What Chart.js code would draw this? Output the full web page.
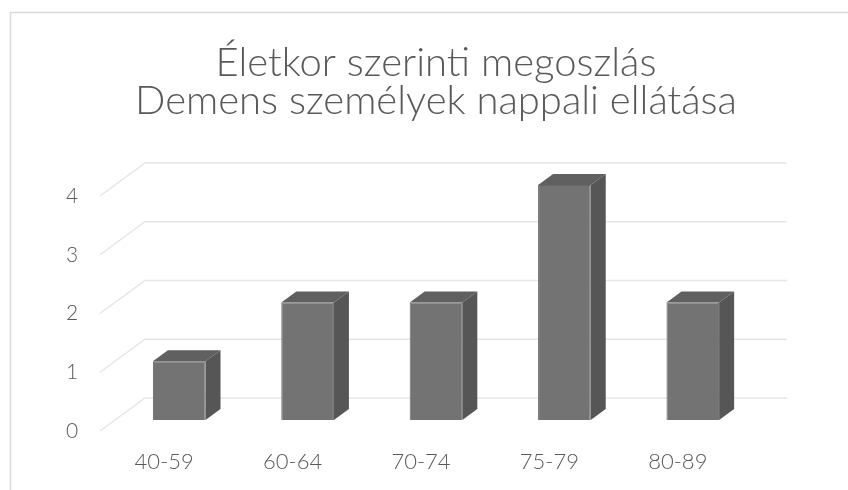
<!DOCTYPE html>
<html>
<head>
<meta charset="utf-8">
<script src="https://cdn.jsdelivr.net/npm/chart.js@4.4.0/dist/chart.umd.min.js"></script>
<style>
  html, body { margin: 0; padding: 0; background: #fff; }
  #wrap { width: 848px; height: 490px; }
</style>
</head>
<body>
<div id="wrap"><canvas id="chart" width="848" height="490"></canvas></div>
<script>
// data
const ageGroups = ["40-59", "60-64", "70-74", "75-79", "80-89"];
const counts = [1, 2, 2, 4, 2];
const yTicks = [0, 1, 2, 3, 4];
const titleLines = ["Életkor szerinti megoszlás", "Demens személyek nappali ellátása"];

const textColor = "#595959";
const font = "Lato, 'Open Sans', sans-serif";

// floor depth of the 3d box, the bar sits in the middle third
const depthX = 45, depthY = -33;

const frame3d = {
  id: "frame3d",
  afterLayout(chart) {
    // excel centres the title over the whole chart incl. the 3d depth
    const t = chart.titleBlock;
    if (t) { t.left += 32; t.right += 32; }
  },
  beforeDraw(chart) {
    const ctx = chart.ctx;
    ctx.save();
    ctx.strokeStyle = "#d9d9d9";
    ctx.lineWidth = 1.5;
    ctx.strokeRect(10.5, 12.5, 1000, 1000);
    ctx.restore();
  },
  beforeDatasetsDraw(chart) {
    const { ctx, chartArea, scales } = chart;
    // gridlines: slanted side wall + back wall
    ctx.save();
    ctx.strokeStyle = "#e6e6e6";
    ctx.lineWidth = 1.5;
    yTicks.forEach(v => {
      const y = scales.y.getPixelForValue(v);
      ctx.beginPath();
      ctx.moveTo(chartArea.left, y);
      ctx.lineTo(chartArea.left + depthX, y + depthY);
      ctx.lineTo(chartArea.right + depthX, y + depthY);
      ctx.stroke();
    });
    ctx.restore();
    // shift bars to middle depth
    ctx.save();
    ctx.translate(depthX / 3, depthY / 3);
  },
  afterDatasetsDraw(chart) {
    const ctx = chart.ctx;
    const dx = depthX / 3, dy = depthY / 3;
    chart.getDatasetMeta(0).data.forEach(bar => {
      const { x, y, base, width } = bar.getProps(["x", "y", "base", "width"], true);
      const l = x - width / 2, r = x + width / 2;
      // top
      ctx.fillStyle = "#606060";
      ctx.beginPath();
      ctx.moveTo(l, y);
      ctx.lineTo(r, y);
      ctx.lineTo(r + dx, y + dy);
      ctx.lineTo(l + dx, y + dy);
      ctx.closePath();
      ctx.fill();
      // side
      ctx.fillStyle = "#565656";
      ctx.beginPath();
      ctx.moveTo(r, y);
      ctx.lineTo(r + dx, y + dy);
      ctx.lineTo(r + dx, base + dy);
      ctx.lineTo(r, base);
      ctx.closePath();
      ctx.fill();
    });
    ctx.restore();
  }
};

new Chart(document.getElementById("chart"), {
  type: "bar",
  data: {
    labels: ageGroups,
    datasets: [{
      data: counts,
      backgroundColor: "#737373",
      borderColor: "#666666",
      borderWidth: 1,
      barPercentage: 1,
      categoryPercentage: 0.41
    }]
  },
  options: {
    responsive: false,
    animation: false,
    layout: { padding: { left: 66, right: 106, top: 0, bottom: 0 } },
    plugins: {
      legend: { display: false },
      tooltip: { enabled: false },
      title: {
        display: true,
        text: titleLines,
        color: textColor,
        font: { family: font, size: 40, weight: "300", lineHeight: 0.95 },
        padding: { top: 44, bottom: 76 }
      }
    },
    scales: {
      x: {
        grid: { display: false, drawTicks: false },
        border: { display: false },
        ticks: { color: textColor, font: { family: font, size: 22, weight: "300" }, padding: 18 },
        afterFit(s) { s.height = 59; }
      },
      y: {
        min: 0,
        max: 4,
        grid: { display: false, drawTicks: false },
        border: { display: false },
        ticks: { stepSize: 1, crossAlign: "far", color: textColor, font: { family: font, size: 21, weight: "300" } },
        afterFit(s) { s.width = 34; }
      }
    }
  },
  plugins: [frame3d]
});
</script>
</body>
</html>
